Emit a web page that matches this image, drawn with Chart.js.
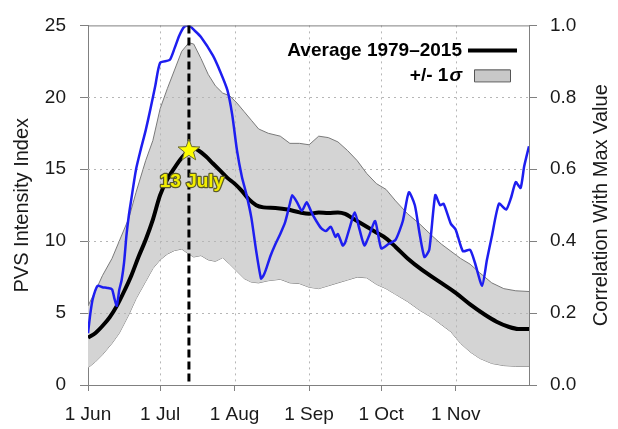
<!DOCTYPE html>
<html>
<head>
<meta charset="utf-8">
<script src="https://cdn.jsdelivr.net/npm/chart.js@4.4.1/dist/chart.umd.min.js"></script>
<style>
html,body{margin:0;padding:0;background:#fff;}
#wrap{width:618px;height:429px;}
</style>
</head>
<body>
<div id="wrap"><canvas id="c" width="618" height="429"></canvas></div>
<script>
// ---- data (x = days since 1 June) ----
const tickDays   = [0, 30, 61, 92, 122, 153];
const tickLabels = ['1 Jun', '1 Jul', '1 Aug', '1 Sep', '1 Oct', '1 Nov'];

const meanDays = [0,3,6,9,12,15,18,21,24,27,30,33,36,39,42,44,46,49,52,55,58,61,64,67,70,73,78,83,88,92,96,100,104,107,110,113,116,120,124,128,133,139,146,153,159,165,170,175,179,183.5];
const meanVals = [3.3,3.6,4.1,4.7,5.5,6.5,7.6,8.9,10.1,11.5,13.2,14.3,15.1,15.8,16.3,16.45,16.3,15.9,15.4,14.9,14.4,14.0,13.5,12.9,12.5,12.35,12.3,12.2,12.0,11.9,12.0,11.95,12.0,11.9,11.6,11.3,11.0,10.6,10.2,9.6,8.8,8.0,7.2,6.4,5.6,4.9,4.4,4.05,3.9,3.9];

const bandDays  = [0,3,6,10,13,17,20,24,27,30,33,36,39,42,44,47,50,53,56,59,62,65,68,71,75,80,84,88,92,96,100,104,108,112,116,120,124,128,133,138,143,147,151,155,159,163,168,173,178,183.5];
const upperVals = [5.5,6.5,7.6,8.8,10.0,11.6,13.4,15.6,17.0,19.2,20.6,21.9,23.2,23.8,23.7,22.7,21.6,20.8,20.3,20.1,19.6,19.0,18.4,17.8,17.5,17.3,16.8,16.8,16.7,17.3,17.2,16.9,16.3,15.6,14.7,14.0,13.6,12.8,11.9,11.2,10.4,9.8,9.3,8.8,8.4,7.8,7.1,6.7,6.55,6.5];
const lowerVals = [1.2,1.6,2.1,2.9,3.6,4.9,6.0,7.2,8.1,8.7,9.1,9.35,9.45,9.1,8.9,9.0,8.7,8.6,8.85,8.4,7.9,7.4,7.15,7.1,7.25,7.35,7.1,7.05,6.8,6.7,6.9,7.1,7.3,7.5,7.45,7.0,6.7,6.3,5.8,5.2,4.7,4.2,3.7,2.9,2.3,1.85,1.5,1.35,1.3,1.3];

const corrDays = [0,1,2,4,6,8,10,11,12,13,14,15,16,17,18,20,22,24,26,28,30,34,36,38,40,42,44,47,52,55,58,60,62,64,66,68,70,72,73,74,76,78,80,82,84,85,87,89,91,93,95,97,99,101,103,104,106,107,109,111,113,115,117,119.5,122,125,128,131,133.5,136,138,140,142,144.5,146.5,148,151,153,156,159,161,164,166,168,171,174,176,178,180,181.5,183.5];
const corrVals = [0.144,0.200,0.240,0.276,0.272,0.270,0.266,0.240,0.220,0.264,0.292,0.340,0.416,0.472,0.516,0.600,0.656,0.708,0.768,0.832,0.896,0.904,0.936,0.972,0.996,1.000,0.988,0.968,0.916,0.872,0.820,0.752,0.652,0.580,0.528,0.464,0.372,0.296,0.304,0.320,0.360,0.392,0.420,0.452,0.504,0.528,0.508,0.484,0.508,0.480,0.456,0.436,0.428,0.440,0.412,0.420,0.388,0.396,0.440,0.480,0.432,0.388,0.416,0.456,0.380,0.392,0.404,0.456,0.536,0.500,0.420,0.356,0.376,0.528,0.500,0.504,0.448,0.432,0.372,0.376,0.340,0.276,0.348,0.412,0.504,0.488,0.520,0.564,0.548,0.608,0.664];

const peakDay = 42;
const peakVal = 16.3;
const peakLabel = '13 July';
const legendMean = 'Average 1979\u20132015';
const legendBand = '+/- 1';
const legendSigma = '\u03c3';
const leftTitle = 'PVS Intensity Index';
const rightTitle = 'Correlation With Max Value';

// ---- build ----
const zip = (xs, ys) => xs.map((x, i) => ({x: x, y: ys[i]}));
const FONT = '"Liberation Sans", Arial, Helvetica, sans-serif';
Chart.defaults.font.family = FONT;
Chart.defaults.color = '#1a1a1a';

const AXIS = '#808080';
const GRID = '#b6b6b6';

const overlay = {
  id: 'overlay',
  beforeDatasetDraw(chart, args) {
    // dotted grid lines, drawn after the sigma band fill, before the mean/correlation lines
    if (args.index !== 1) return;
    const {ctx, chartArea: a, scales} = chart;
    ctx.save();
    ctx.strokeStyle = GRID; ctx.lineWidth = 1; ctx.setLineDash([2, 4]);
    scales.x.ticks.forEach(t => {
      if (t.value <= scales.x.min) return;
      const px = Math.round(scales.x.getPixelForValue(t.value)) + 0.5;
      ctx.beginPath(); ctx.moveTo(px, a.top); ctx.lineTo(px, a.bottom); ctx.stroke();
    });
    scales.y.ticks.forEach(t => {
      if (t.value <= scales.y.min || t.value >= scales.y.max) return;
      const py = Math.round(scales.y.getPixelForValue(t.value)) + 0.5;
      ctx.beginPath(); ctx.moveTo(a.left, py); ctx.lineTo(a.right, py); ctx.stroke();
    });
    ctx.restore();
  },
  afterDraw(chart) {
    const {ctx, chartArea: a, scales} = chart;
    const x = scales.x, y = scales.y;
    ctx.save();
    // top border
    ctx.strokeStyle = AXIS; ctx.lineWidth = 1;
    ctx.beginPath(); ctx.moveTo(a.left, a.top + 0.5); ctx.lineTo(a.right, a.top + 0.5); ctx.stroke();
    // peak dashed line
    const px = x.getPixelForValue(peakDay);
    ctx.strokeStyle = '#000'; ctx.lineWidth = 3; ctx.setLineDash([8, 4]);
    ctx.beginPath(); ctx.moveTo(px, a.top); ctx.lineTo(px, a.bottom); ctx.stroke();
    ctx.setLineDash([]);
    // star
    const py = y.getPixelForValue(peakVal);
    const R = 11.5, r = 4.8;
    ctx.beginPath();
    for (let i = 0; i < 10; i++) {
      const ang = -Math.PI / 2 + i * Math.PI / 5;
      const rr = i % 2 === 0 ? R : r;
      const sx = px + rr * Math.cos(ang), sy = py + rr * Math.sin(ang);
      if (i === 0) ctx.moveTo(sx, sy); else ctx.lineTo(sx, sy);
    }
    ctx.closePath();
    ctx.fillStyle = '#ffff00'; ctx.fill();
    ctx.strokeStyle = '#6b6b30'; ctx.lineWidth = 1; ctx.stroke();
    // peak label
    ctx.font = 'bold 19px ' + FONT;
    ctx.textAlign = 'center'; ctx.textBaseline = 'middle';
    ctx.lineJoin = 'round';
    ctx.strokeStyle = '#5a5a2a'; ctx.lineWidth = 2.5;
    ctx.strokeText(peakLabel, px + 3, py + 31);
    ctx.fillStyle = '#f2ee00';
    ctx.fillText(peakLabel, px + 3, py + 31);
    // legend
    const lx = a.right - 67;
    const ly1 = a.top + 25, ly2 = a.top + 50;
    ctx.fillStyle = '#000';
    ctx.textAlign = 'right'; ctx.textBaseline = 'middle';
    ctx.font = 'bold 19px ' + FONT;
    ctx.fillText(legendMean, lx, ly1);
    ctx.strokeStyle = '#000'; ctx.lineWidth = 4;
    ctx.beginPath(); ctx.moveTo(a.right - 61, ly1); ctx.lineTo(a.right - 12, ly1); ctx.stroke();
    ctx.font = 'bold italic 19px ' + FONT;
    const sw = ctx.measureText(legendSigma).width;
    ctx.fillText(legendSigma, lx, ly2);
    ctx.font = 'bold 19px ' + FONT;
    ctx.fillText(legendBand, lx - sw - 1, ly2);
    ctx.fillStyle = '#c8c8c8';
    ctx.fillRect(a.right - 55, ly2 - 6, 36, 12);
    ctx.strokeStyle = '#555'; ctx.lineWidth = 1;
    ctx.strokeRect(a.right - 55 + 0.5, ly2 - 6 + 0.5, 36, 12);
    // axis titles (both read bottom-to-top)
    ctx.fillStyle = '#1a1a1a';
    ctx.font = '20px ' + FONT;
    ctx.textAlign = 'center'; ctx.textBaseline = 'middle';
    const cy = (a.top + a.bottom) / 2;
    ctx.save(); ctx.translate(22, cy); ctx.rotate(-Math.PI / 2); ctx.fillText(leftTitle, 0, 0); ctx.restore();
    ctx.save(); ctx.translate(601, cy); ctx.rotate(-Math.PI / 2); ctx.fillText(rightTitle, 0, 0); ctx.restore();
    ctx.restore();
  }
};

new Chart(document.getElementById('c'), {
  type: 'line',
  data: {
    datasets: [
      {label: 'Correlation', data: zip(corrDays, corrVals), yAxisID: 'y2', borderColor: '#1e1ef0', borderWidth: 2.5, pointRadius: 0, tension: 0.2, fill: false, order: 0},
      {label: 'Average', data: zip(meanDays, meanVals), yAxisID: 'y', borderColor: '#000', borderWidth: 4, pointRadius: 0, cubicInterpolationMode: 'monotone', fill: false, order: 1},
      {label: 'Upper', data: zip(bandDays, upperVals), yAxisID: 'y', borderColor: '#7a7a7a', borderWidth: 1, backgroundColor: '#d4d4d4', pointRadius: 0, tension: 0, fill: '+1', order: 2},
      {label: 'Lower', data: zip(bandDays, lowerVals), yAxisID: 'y', borderColor: '#7a7a7a', borderWidth: 1, pointRadius: 0, tension: 0, fill: false, order: 3}
    ]
  },
  options: {
    responsive: false,
    animation: false,
    events: [],
    layout: {padding: {top: 16, left: 0, right: 0, bottom: 0}},
    plugins: {legend: {display: false}, tooltip: {enabled: false}},
    scales: {
      x: {
        type: 'linear', min: 0, max: 183.5, position: 'bottom',
        afterBuildTicks: s => { s.ticks = tickDays.map(v => ({value: v})); },
        afterFit: s => { s.height = 44; },
        ticks: {
          autoSkip: false, maxRotation: 0, padding: 12,
          font: {size: 19},
          callback: v => tickLabels[tickDays.indexOf(v)]
        },
        grid: {drawOnChartArea: false, tickBorderDash: [], tickColor: AXIS, tickLength: 6, lineWidth: 1},
        border: {color: AXIS, width: 1}
      },
      y: {
        position: 'left', min: 0, max: 25,
        afterFit: s => { s.width = 88; },
        ticks: {stepSize: 5, padding: 14, font: {size: 19}},
        grid: {drawOnChartArea: false, tickBorderDash: [], tickColor: AXIS, tickLength: 8, lineWidth: 1},
        border: {color: AXIS, width: 1}
      },
      y2: {
        position: 'right', min: 0, max: 1,
        afterFit: s => { s.width = 89; },
        ticks: {stepSize: 0.2, padding: 13, font: {size: 19}, callback: v => Number(v).toFixed(1)},
        grid: {drawOnChartArea: false, tickColor: AXIS, tickLength: 8, tickBorderDash: []},
        border: {color: AXIS, width: 1}
      }
    }
  },
  plugins: [overlay]
});
</script>
</body>
</html>
